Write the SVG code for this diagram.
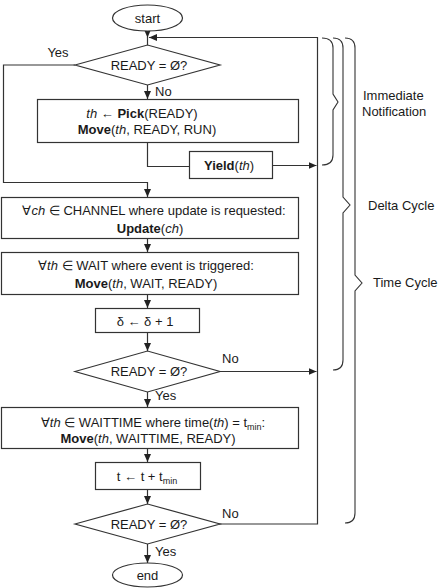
<svg xmlns="http://www.w3.org/2000/svg" width="440" height="588" viewBox="0 0 440 588">
<style>
text{font-family:"Liberation Sans",Arial,sans-serif;font-size:13px;fill:#1a1a1a}
.m{text-anchor:middle}
.b{font-weight:bold}
.i{font-style:italic}
.sh{fill:#fff;stroke:#333;stroke-width:1.2}
.ln{fill:none;stroke:#333;stroke-width:1.2}
.br{fill:none;stroke:#333;stroke-width:1.1}
</style>
<defs>
<marker id="ah" markerUnits="userSpaceOnUse" markerWidth="8" markerHeight="7" refX="8" refY="3.5" orient="auto">
<path d="M0,0 L8,3.5 L0,7 z" fill="#222"/>
</marker>
</defs>
<g id="connectors">
<path class="ln" d="M147.5,31 V37.5" marker-end="url(#ah)"/>
<path class="ln" d="M147.5,37 V45"/>
<path class="ln" d="M219,524 H317.5 V37.5 H149" marker-end="url(#ah)"/>
<path class="ln" d="M75,65 H3.5 V182.5 H147.5 V197" marker-end="url(#ah)"/>
<path class="ln" d="M147.5,85 V99" marker-end="url(#ah)"/>
<path class="ln" d="M147.5,142 V166.5 H189"/>
<path class="ln" d="M272,165.5 H316.5" marker-end="url(#ah)"/>
<path class="ln" d="M147.5,238 V252" marker-end="url(#ah)"/>
<path class="ln" d="M147.5,294 V308" marker-end="url(#ah)"/>
<path class="ln" d="M147.5,332 V351" marker-end="url(#ah)"/>
<path class="ln" d="M220,371.5 H316.5" marker-end="url(#ah)"/>
<path class="ln" d="M147.5,392 V407" marker-end="url(#ah)"/>
<path class="ln" d="M147.5,448 V462" marker-end="url(#ah)"/>
<path class="ln" d="M147.5,489 V504" marker-end="url(#ah)"/>
<path class="ln" d="M147.5,544 V563" marker-end="url(#ah)"/>
</g>
<g id="labels">
<text class="m" x="58" y="57">Yes</text>
<text x="155" y="95.5">No</text>
<text x="222" y="362.5">No</text>
<text x="155" y="400">Yes</text>
<text x="222" y="517.5">No</text>
<text x="155" y="555.5">Yes</text>
</g>
<g id="start"><ellipse class="sh" cx="147.5" cy="18" rx="35" ry="13"/><text class="m" x="147.5" y="22.5">start</text></g>
<g id="d1"><polygon class="sh" points="75,65 147.5,45 220,65 147.5,85"/><text class="m" x="149" y="69.5">READY = Ø?</text></g>
<g id="pick"><rect class="sh" x="37.5" y="99.5" width="261" height="43"/>
<text class="m" x="142" y="117.5"><tspan class="i">th</tspan> ← <tspan class="b">Pick</tspan>(READY)</text>
<text class="m" x="147" y="133.5"><tspan class="b">Move</tspan>(<tspan class="i">th</tspan>, READY, RUN)</text></g>
<g id="yield"><rect class="sh" x="189.5" y="151.5" width="83" height="27"/><text class="m" x="229" y="170"><tspan class="b">Yield</tspan>(<tspan class="i">th</tspan>)</text></g>
<g id="update"><rect class="sh" x="1.5" y="197.5" width="297" height="41"/>
<text class="m" x="154" y="214.5">∀<tspan class="i">ch</tspan> ∈ CHANNEL where update is requested:</text>
<text class="m" x="150" y="232.5"><tspan class="b">Update</tspan>(<tspan class="i">ch</tspan>)</text></g>
<g id="wait"><rect class="sh" x="1.5" y="252.5" width="297" height="42"/>
<text class="m" x="146" y="269.5">∀<tspan class="i">th</tspan> ∈ WAIT where event is triggered:</text>
<text class="m" x="146" y="287.5"><tspan class="b">Move</tspan>(<tspan class="i">th</tspan>, WAIT, READY)</text></g>
<g id="delta"><rect class="sh" x="95.5" y="308.5" width="104" height="24"/><text class="m" x="145" y="325.5">δ  ← δ + 1</text></g>
<g id="d2"><polygon class="sh" points="75,371.5 147.5,351 220,371.5 147.5,392"/><text class="m" x="149" y="376">READY = Ø?</text></g>
<g id="waittime"><rect class="sh" x="1.5" y="407.5" width="297" height="41"/>
<text class="m" x="153" y="426.5">∀<tspan class="i">th</tspan> ∈ WAITTIME where time(<tspan class="i">th</tspan>) = t<tspan font-size="9" dy="3">min</tspan><tspan dy="-3">:</tspan></text>
<text class="m" x="148" y="442.5"><tspan class="b">Move</tspan>(<tspan class="i">th</tspan>, WAITTIME, READY)</text></g>
<g id="time"><rect class="sh" x="95.5" y="462.5" width="105" height="27"/><text class="m" x="147" y="481">t  ← t + t<tspan font-size="9" dy="3">min</tspan></text></g>
<g id="d3"><polygon class="sh" points="75,524 147.5,504 220,524 147.5,544"/><text class="m" x="149" y="528.5">READY = Ø?</text></g>
<g id="end"><ellipse class="sh" cx="147.5" cy="575" rx="35" ry="12"/><text class="m" x="147.5" y="579.5">end</text></g>
<g id="braces">
<path class="br" d="M322,38 Q333,38 333,48 V94 L338,102 L333,110 V155 Q333,165 322,165"/>
<path class="br" d="M333,38 Q343,38 343,48 V197 L350,205 L343,213 V360 Q343,370 333,370"/>
<path class="br" d="M345,38 Q355,38 355,48 V275 L362,283 L355,291 V513 Q355,523 345,523"/>
<text x="363" y="99.5">Immediate</text>
<text x="362" y="115.5">Notification</text>
<text x="368" y="210">Delta Cycle</text>
<text x="373" y="287">Time Cycle</text>
</g>
</svg>
